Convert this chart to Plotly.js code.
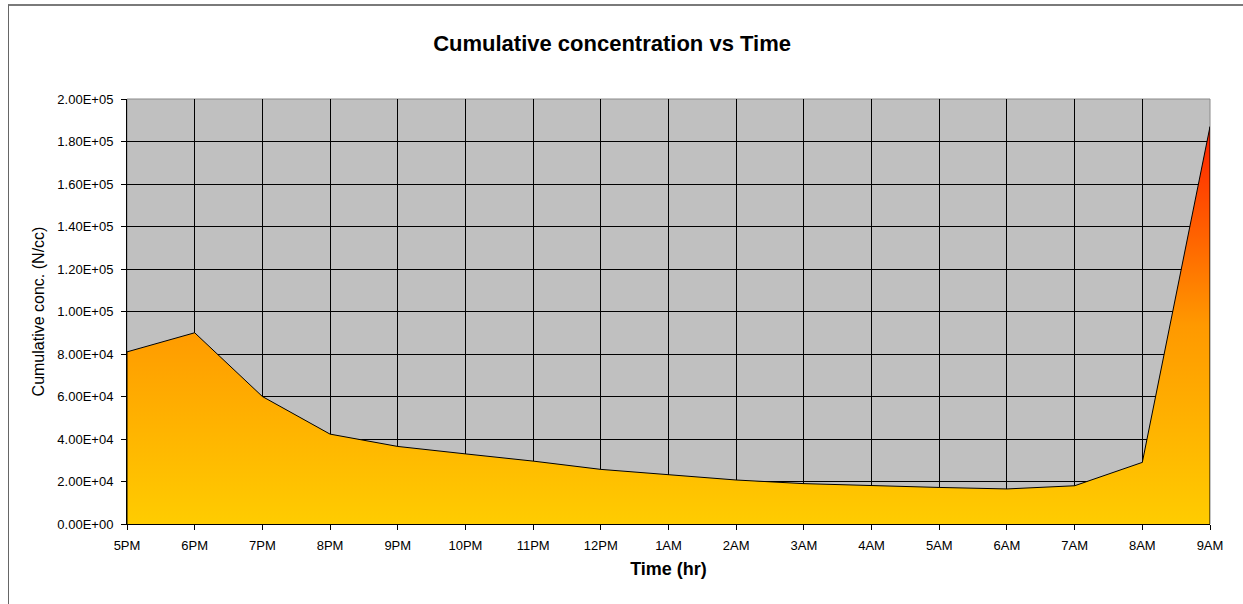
<!DOCTYPE html>
<html>
<head>
<meta charset="utf-8">
<script src="https://cdn.plot.ly/plotly-3.0.1.min.js"></script>
<style>
  html, body { margin: 0; padding: 0; background: #fff; overflow: hidden; }
  #chart { position: absolute; left: 0; top: 0; width: 1243px; height: 604px; }
  #frame { position: absolute; left: 8px; top: 4px; width: 2000px; height: 2000px;
           border-left: 1px solid #666; border-top: 2px solid #7a7a7a; pointer-events: none; }
</style>
</head>
<body>
<div id="chart"></div>
<div id="frame"></div>
<script>
// ---- data ----
const timeLabels = ['5PM','6PM','7PM','8PM','9PM','10PM','11PM','12PM','1AM','2AM','3AM','4AM','5AM','6AM','7AM','8AM','9AM'];
const concValues = [81000, 90000, 60000, 42300, 36500, 33000, 29600, 25700, 23200, 20700, 19000, 18000, 17200, 16500, 18000, 29000, 187000];
const yTickVals = [0, 20000, 40000, 60000, 80000, 100000, 120000, 140000, 160000, 180000, 200000];
const yTickText = ['0.00E+00','2.00E+04','4.00E+04','6.00E+04','8.00E+04','1.00E+05','1.20E+05','1.40E+05','1.60E+05','1.80E+05','2.00E+05'];
const chartTitle = 'Cumulative concentration vs Time';
const xTitle = 'Time (hr)';
const yTitle = 'Cumulative conc. (N/cc)';

// closed area polygon built from the data (baseline at zero at both ends)
const polyX = [timeLabels[0]].concat(timeLabels, [timeLabels[timeLabels.length - 1]]);
const polyY = [0].concat(concValues, [0]);

const FONT = 'Arial, "Liberation Sans", sans-serif';

const trace = {
  type: 'scatter',
  mode: 'lines',
  x: polyX,
  y: polyY,
  fill: 'toself',
  fillgradient: {
    type: 'vertical',
    start: 0,
    stop: Math.max.apply(null, concValues),
    colorscale: [[0, '#FFCC00'], [0.5, '#FF9900'], [1, '#FF2000']]
  },
  line: { color: '#000000', width: 1 },
  hoverinfo: 'skip',
  showlegend: false
};

const layout = {
  width: 1243,
  height: 604,
  margin: { l: 127, r: 33, t: 99, b: 80, pad: 0 },
  paper_bgcolor: '#ffffff',
  plot_bgcolor: '#C0C0C0',
  font: { family: FONT, color: '#000000', size: 13 },
  title: {
    text: '<b>' + chartTitle + '</b>',
    font: { family: FONT, size: 22, color: '#000000' },
    x: 0.4924, xref: 'container', xanchor: 'center',
    y: 1 - 43 / 604, yref: 'container', yanchor: 'middle'
  },
  xaxis: {
    type: 'category',
    categoryorder: 'array',
    categoryarray: timeLabels,
    range: [0, timeLabels.length - 1],
    showgrid: true,
    gridcolor: '#000000',
    gridwidth: 1,
    showline: true,
    linecolor: '#000000',
    linewidth: 1,
    ticks: 'outside',
    ticklen: 5,
    tickcolor: '#000000',
    ticklabelstandoff: 4,
    tickfont: { family: FONT, size: 13, color: '#000000' },
    zeroline: false,
    fixedrange: true,
    title: { text: '<b>' + xTitle + '</b>', font: { family: FONT, size: 18, color: '#000000' }, standoff: 10 }
  },
  yaxis: {
    range: [0, 200000],
    tickmode: 'array',
    tickvals: yTickVals,
    ticktext: yTickText,
    showgrid: true,
    gridcolor: '#000000',
    gridwidth: 1,
    showline: true,
    linecolor: '#000000',
    linewidth: 1,
    ticks: 'outside',
    ticklen: 5,
    tickcolor: '#000000',
    ticklabelstandoff: 5,
    tickfont: { family: FONT, size: 13, color: '#000000' },
    zeroline: false,
    fixedrange: true,
    title: { text: yTitle, font: { family: FONT, size: 16, color: '#000000' }, standoff: 8 }
  },
  shapes: [{
    type: 'rect', xref: 'paper', yref: 'paper', x0: 0, x1: 1, y0: 0, y1: 1,
    line: { color: '#8a8a8a', width: 1 }, layer: 'between'
  }]
};

Plotly.newPlot('chart', [trace], layout, { displayModeBar: false, staticPlot: true });
</script>
</body>
</html>
